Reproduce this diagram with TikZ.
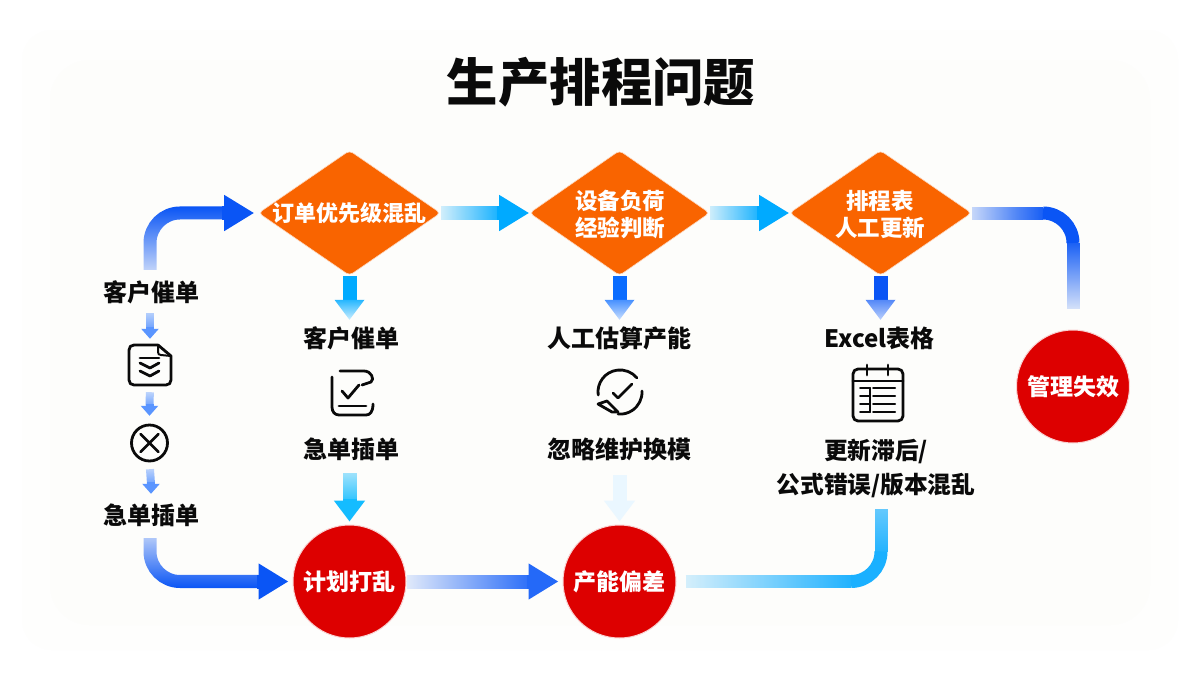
\documentclass[tikz,border=0pt]{standalone}
\usepackage{fontspec}
\setmainfont{Noto Sans CJK SC}
\newfontfamily\titlefont{Noto Sans CJK SC Black}
\usetikzlibrary{arrows.meta,shapes.geometric,fadings,calc}
\definecolor{bluea}{HTML}{0A55F5}
\definecolor{blueb}{HTML}{0A6CFF}
\definecolor{bluec}{HTML}{2469F8}
\definecolor{blued}{HTML}{5A95FF}
\definecolor{skya}{HTML}{00AAFF}
\definecolor{skyb}{HTML}{1AB0FF}
\definecolor{skyc}{HTML}{14BCFF}
\definecolor{palesky}{HTML}{EAF7FF}
\definecolor{orangeb}{HTML}{F96400}
\definecolor{redb}{HTML}{DD0000}
\definecolor{paper}{HTML}{FDFDFB}
\definecolor{paperb}{HTML}{FEFEFD}
\definecolor{ink}{HTML}{0A0A0A}
\tikzfading[name=fadeE, left color=transparent!92, middle color=transparent!15, right color=transparent!0]
\tikzfading[name=fadeEl, left color=transparent!92, right color=transparent!0]
\tikzfading[name=fadeS, top color=transparent!92, bottom color=transparent!0]
\tikzfading[name=fadeN, bottom color=transparent!95, middle color=transparent!15, top color=transparent!0]
% the path's box covers 25bp to 75bp of these, so they are fully opaque at the joining end
\pgfdeclarehorizontalshading{fadeXshade}{100bp}{color(0bp)=(pgftransparent!90); color(25bp)=(pgftransparent!85); color(55bp)=(pgftransparent!30); color(75bp)=(pgftransparent!0); color(100bp)=(pgftransparent!0)}
\pgfdeclarefading{fadeX}{\pgfuseshading{fadeXshade}}
\pgfdeclarehorizontalshading{fadeYshade}{100bp}{color(0bp)=(pgftransparent!95); color(25bp)=(pgftransparent!90); color(75bp)=(pgftransparent!0); color(100bp)=(pgftransparent!0)}
\pgfdeclarefading{fadeY}{\pgfuseshading{fadeYshade}}
\pgfdeclareverticalshading{fadeOutShade}{100bp}{color(0bp)=(pgftransparent!95); color(25bp)=(pgftransparent!92); color(75bp)=(pgftransparent!0); color(100bp)=(pgftransparent!0)}
\pgfdeclarefading{fadeDownOut}{\pgfuseshading{fadeOutShade}}
\pgfdeclareverticalshading{fadeSoftShade}{100bp}{color(0bp)=(pgftransparent!0); color(25bp)=(pgftransparent!0); color(75bp)=(pgftransparent!45); color(100bp)=(pgftransparent!45)}
\pgfdeclarefading{fadeUpSoft}{\pgfuseshading{fadeSoftShade}}
\tikzset{
  shaft/.style={line width=14pt},
  conn/.style={line width=14pt,-{Triangle[length=30pt,width=34pt]}},
  smallhead/.style={line width=8pt,blued,-{Triangle[length=10pt,width=17pt]}},
  smallshaft/.style={line width=8pt,blued,path fading=fadeS},
  bentline/.style={line width=13pt,rounded corners=30pt},
  lab/.style={font=\fontsize{24}{24}\selectfont\bfseries,text=ink,inner sep=0pt,text height=21pt,text depth=3pt},
  dia/.style={diamond,fill=orangeb,draw=orangeb!25,line width=.6pt,rounded corners=4pt,inner sep=0pt,minimum width=182pt,minimum height=125pt,aspect=1.46},
  diatxt/.style={font=\fontsize{22.5}{27}\selectfont\bfseries,text=white,inner sep=0pt,align=center},
  cir/.style={circle,fill=redb,draw=redb!18,line width=1pt,inner sep=0pt,minimum size=113pt,font=\fontsize{23}{23}\selectfont\bfseries,text=white},
  ico/.style={inner sep=0pt,minimum size=44pt},
  icoline/.style={draw=ink,line width=2.8pt,line cap=round,line join=round}
}
% a down-pointing head whose tip is at #1, shaded from #2 to #3
\newcommand{\dnhead}[3]{\shade[top color=#2,bottom color=#3] ($(#1)+(-15,-20)$) -- ($(#1)+(15,-20)$) -- (#1) -- cycle;}
\begin{document}
\begin{tikzpicture}[x=1pt,y=-1pt]
\useasboundingbox (0,0) rectangle (1200,675);
\fill[white] (0,0) rectangle (1200,675);
\fill[paperb,rounded corners=30pt] (22,30) rectangle (1178,650);
\fill[paper,rounded corners=40pt] (50,60) rectangle (1150,625);

\node[inner sep=0pt,font=\fontsize{51.4}{52}\selectfont\titlefont,text=ink] (title) at (601,82) {生产排程问题};

% diamonds
\node[dia] (d1) at (349.5,213) {};
\node[dia,minimum width=180pt] (d2) at (619.5,213) {};
\node[dia] (d3) at (880.5,213) {};
\node[diatxt] (d1t) at (349.5,213) {\fontsize{22}{27}\selectfont 订单优先级混乱};
\node[diatxt] (d2t) at (620,215) {设备负荷\\经验判断};
\node[diatxt] (d3t) at (880,214) {排程表\\人工更新};

% circles
\node[cir] (c1) at (349.5,581.5) {计划打乱};
\node[cir] (c2) at (619.5,581.5) {产能偏差};
\node[cir] (c3) at (1073,386.5) {管理失效};

% left column
\node[lab] (l1) at (151,292) {客户催单};
\node[ico] (i0) at (150,365) {};
\node[ico,minimum size=38pt] (i1) at (149.5,443) {};
\node[lab] (l2) at (151,515) {急单插单};

% column labels
\node[lab] (a1) at (351,338) {客户催单};
\node[ico] (ia) at (352,393) {};
\node[lab] (a2) at (351,449) {急单插单};
\node[lab] (b1) at (619,338) {人工估算产能};
\node[ico] (ib) at (620,392) {};
\node[lab] (b2) at (619,449) {忽略维护换模};
\node[lab] (e1) at (879.5,338) {Excel表格};
\node[ico] (ie) at (878,395) {};
\node[inner sep=0pt,text=ink,align=center,font=\fontsize{23.7}{34}\selectfont\bfseries] (e2) at (876,468) {更新滞后/\\公式错误/版本混乱};

% horizontal arrows: fading shaft, then a solid head
\draw[shaft,skya,path fading=fadeE] (d1.east) +(0,-7) +(0,7) (d1.east) -- ($(d2.west)+(-30,0)$);
\draw[conn,skya] ($(d2.west)+(-32,0)$) -- (d2.west);
\draw[shaft,skya,path fading=fadeE] (d2.east) +(0,-7) +(0,7) (d2.east) -- ($(d3.west)+(-30,0)$);
\draw[conn,skya] ($(d3.west)+(-32,0)$) -- (d3.west);
\draw[shaft,bluec,path fading=fadeEl] (c1.east) +(0,-7) +(0,7) (c1.east) -- ($(c2.west)+(-34,0)$);
\draw[conn,bluec,shorten >=4pt] ($(c2.west)+(-36,0)$) -- (c2.west);

% vertical arrows out of diamonds
\coordinate (ta) at ($(d1.south |- a1.north)+(0,-6)$);
\coordinate (tb) at ($(d2.south |- b1.north)+(0,-6)$);
\coordinate (te) at ($(d3.south |- e1.north)+(0,-6)$);
\draw[shaft,skya] (d1.south) -- ($(ta)+(0,-19)$);
\draw[shaft,blueb] (d2.south) -- ($(tb)+(0,-19)$);
\draw[shaft,bluea] (d3.south) -- ($(te)+(0,-19)$);
\dnhead{ta}{skya!85}{skya!20}
\dnhead{tb}{blueb!75}{blueb!22}
\dnhead{te}{bluea!70}{bluea!28}

% arrows into circles
\draw[shaft,skyc,path fading=fadeS,shorten <=12pt] (c1.north |- a2.south) +(-7,0) +(7,0) (c1.north |- a2.south) -- ($(c1.north)+(0,-24)$);
\draw[shaft,skyc,-{Triangle[length=21pt,width=30pt]},shorten >=3pt] ($(c1.north)+(0,-26)$) -- (c1.north);
\draw[shaft,palesky,-{Triangle[length=21pt,width=30pt]},shorten <=14pt,shorten >=3pt] (c2.north |- b2.south) -- (c2.north);

% small arrows on the left
\draw[smallshaft,shorten <=9pt] (l1.south -| i0.center) +(-4,0) +(4,0) (l1.south -| i0.center) -- ($(i0.north)+(0,-14)$);
\draw[smallhead,shorten >=4pt] ($(i0.north)+(0,-16)$) -- (i0.north);
\draw[smallshaft,shorten <=5pt] (i0.south) +(-4,0) +(4,0) (i0.south) -- ($(i1.north)+(0,-18)$);
\draw[smallhead,shorten >=8pt] ($(i1.north)+(0,-20)$) -- (i1.north);
\draw[smallshaft,shorten <=7pt] (i1.south) +(-4,0) +(4,0) (i1.south) -- ($(l2.north)+(0,-19)$);
\draw[smallhead,shorten >=9pt] ($(l2.north)+(0,-21)$) -- (l2.north);

% long bent connectors
\draw[bentline,bluea,path fading=fadeN,shorten <=10pt] ($(l1.north)+(-1,0)$) |- ($(d1.west)+(-34,0)$);
\draw[conn,bluea,shorten >=4pt] ($(d1.west)+(-36,0)$) -- (d1.west);
\draw[bentline,bluea,path fading=fadeS,shorten <=11pt] ($(l2.south)+(-1,0)$) |- ($(c1.west)+(-34,0)$);
\draw[conn,bluea,shorten >=4pt] ($(c1.west)+(-36,0)$) -- (c1.west);

% diamond 3 to circle 3: fade in, solid corner, fade out
\coordinate (k3) at (c3.north |- d3.east);
\coordinate (k3a) at ($(k3)+(-30,0)$);
\coordinate (k3b) at ($(k3)+(0,30)$);
\draw[bentline,bluea,path fading=fadeX] (d3.east) +(0,-7) +(0,7) (d3.east) -- (k3a);
\draw[bentline,bluea] (k3a) -- (k3) -- (k3b);
\draw[bentline,bluea,path fading=fadeDownOut] (k3b) +(-7,0) +(7,0) (k3b) -- ($(c3.north)+(0,-20)$);

% circle 2 to the text above: fade in, solid corner, soft top
\coordinate (e2b) at ($(e2.south)+(5,0)$);
\coordinate (k2) at (e2b |- c2.east);
\coordinate (k2a) at ($(k2)+(-30,0)$);
\coordinate (k2b) at ($(k2)+(0,-30)$);
\draw[bentline,skyb,path fading=fadeY,shorten <=9pt] (c2.east) +(0,-7) +(0,7) (c2.east) -- (k2a);
\draw[bentline,skyb] (k2a) -- (k2) -- (k2b);
\draw[bentline,skyb,path fading=fadeUpSoft,shorten >=11pt] (k2b) +(-7,0) +(7,0) (k2b) -- (e2b);

% icons
\begin{scope}[shift={(i0.center)},icoline]
  \draw (8,-20) -- (-16,-20) .. controls (-19,-20) and (-21,-18) .. (-21,-15) -- (-21,15) .. controls (-21,18) and (-19,20) .. (-16,20) -- (16,20) .. controls (19,20) and (21,18) .. (21,15) -- (21,-9) -- (8,-20);
  \draw[line width=2pt] (8,-20) -- (8,-13) .. controls (8,-11) and (9,-10) .. (11,-10) -- (21,-9);
  \draw (-10,-7) -- (9,-7);
  \draw (-10,-2) -- (0,3) -- (9,-2);
  \draw (-10,6) -- (0,11) -- (9,6);
\end{scope}
\begin{scope}[shift={(i1.center)},icoline]
  \draw (0,0) circle[radius=18pt];
  \draw (-9,-9) -- (9,9) (-9,9) -- (9,-9);
\end{scope}
\begin{scope}[shift={(ia.center)},icoline]
  \draw (-20,-16) -- (-20,14) .. controls (-20,19) and (-17,22) .. (-13,22) -- (14,22) .. controls (18,22) and (21,19) .. (21,11);
  \draw (-12,-22) -- (12,-22) .. controls (19,-22) and (23,-14) .. (19,-11) -- (10,-8);
  \draw (-10,-2) -- (-4,5) -- (7,-8);
  \draw (-13,13) -- (14,13);
\end{scope}
\begin{scope}[shift={(ib.center)},icoline]
  \draw (-21.8,3) arc[start angle=188,end angle=40,radius=22pt];
  \draw (22,-1) arc[start angle=3,end angle=-95,radius=22pt];
  \draw (-22,12) -- (-13,9) -- (-2,20) -- (-8,20) -- (-22,12);
  \draw (-7,1) -- (-2,6) -- (12,-8);
\end{scope}
\begin{scope}[shift={(ie.center)},icoline]
  \draw[rounded corners=5pt] (-25,-26) rectangle (25,26);
  \draw (-25,-14) -- (25,-14);
  \draw (-11,-30) -- (-11,-20) (10,-30) -- (10,-20);
  \draw[line width=2pt] (-8,-7) -- (-8,17);
  \draw[line width=2pt] (-18,-7) -- (-8,-7) (-18,1) -- (-8,1) (-18,9) -- (-8,9) (-18,17) -- (-8,17);
  \draw[line width=2pt] (-5,-7) -- (17,-7) (-5,1) -- (17,1) (-5,9) -- (17,9) (-5,17) -- (17,17);
\end{scope}
\end{tikzpicture}
\end{document}
